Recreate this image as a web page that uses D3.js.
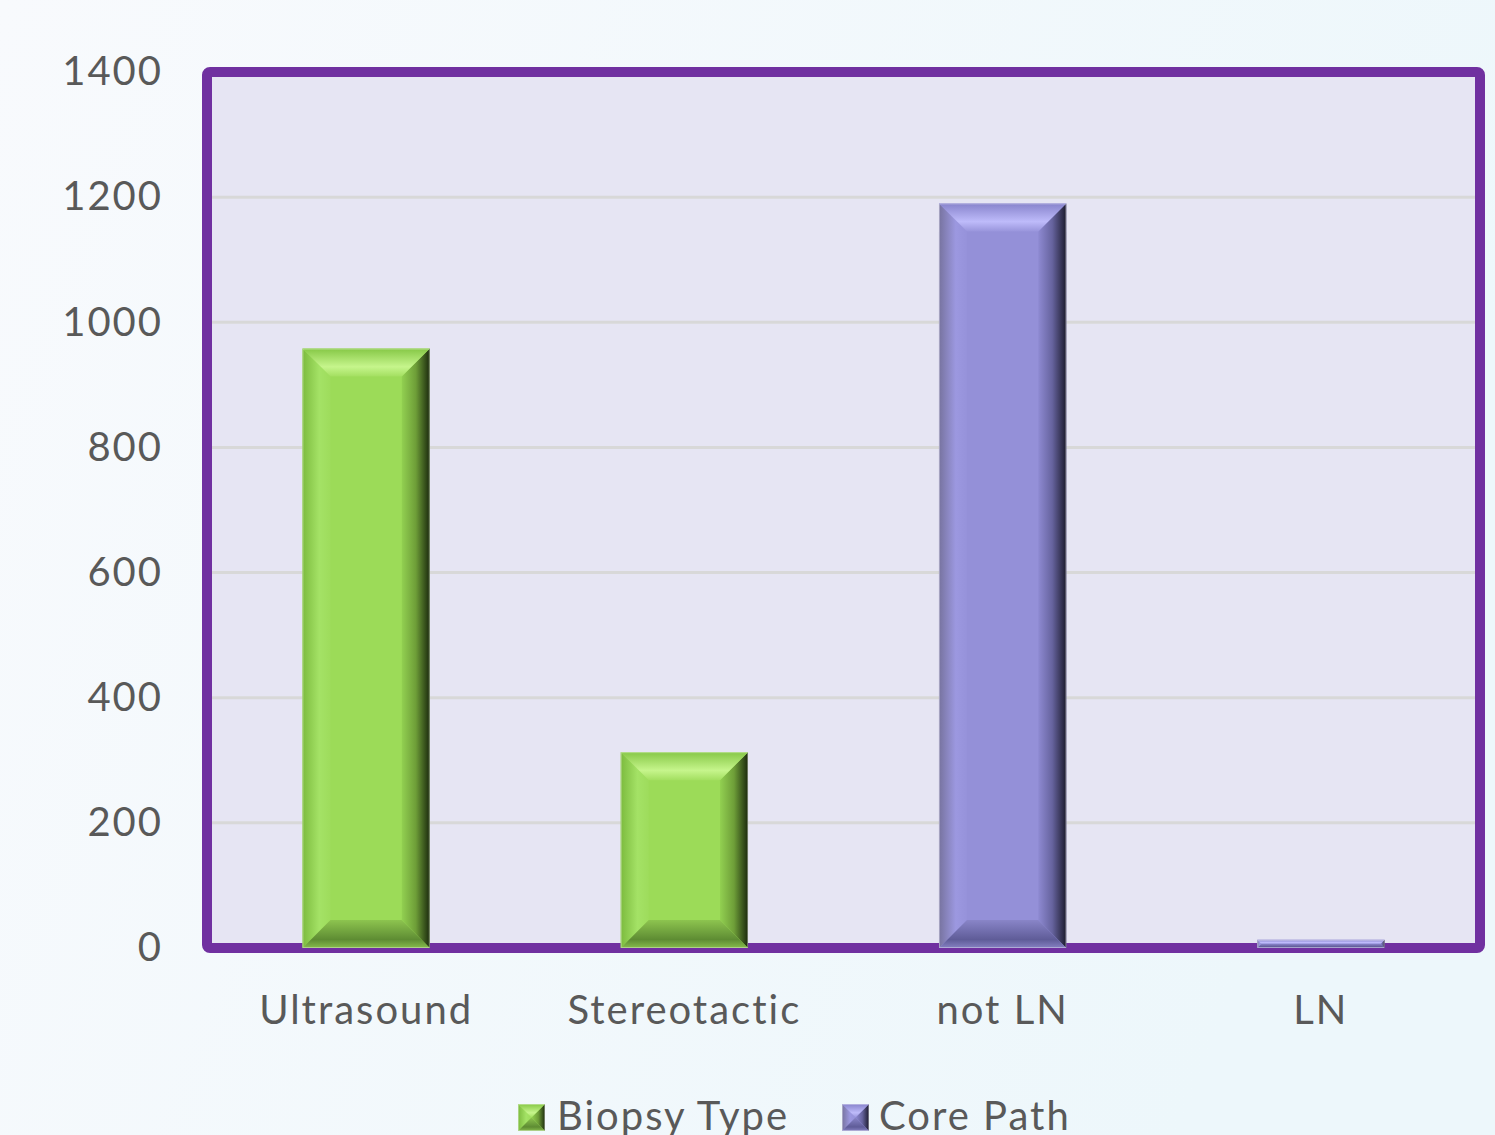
<!DOCTYPE html>
<html>
<head>
<meta charset="utf-8">
<script src="https://cdn.jsdelivr.net/npm/d3@7"></script>
<style>
  html, body { margin: 0; padding: 0; }
  body { width: 1495px; height: 1135px; overflow: hidden; }
  svg { display: block; }
  text { font-family: Lato, "Open Sans", sans-serif; fill: #595959; letter-spacing: 2px; }
</style>
</head>
<body>
<svg id="chart" width="1495" height="1135"></svg>
<script>
// Biopsy counts by category
const categories = ["Ultrasound", "Stereotactic", "not LN", "LN"];
const values = [958, 313, 1190, 13];
const seriesOf = ["Biopsy Type", "Biopsy Type", "Core Path", "Core Path"];
const seriesNames = ["Biopsy Type", "Core Path"];
const yTicks = [0, 200, 400, 600, 800, 1000, 1200, 1400];

const W = 1495, H = 1135;
const plot = { left: 207, right: 1480, top: 72, bottom: 948 };

const svg = d3.select("#chart");
const defs = svg.append("defs");

// Page background
const bg = defs.append("linearGradient").attr("id", "bg")
  .attr("x1", 0).attr("y1", 0).attr("x2", 1).attr("y2", 0.3);
bg.append("stop").attr("offset", 0).attr("stop-color", "#F8FAFD");
bg.append("stop").attr("offset", 1).attr("stop-color", "#EDF7FB");
svg.append("rect").attr("width", W).attr("height", H).attr("fill", "url(#bg)");

// Bevel colour palettes per series
const palettes = {
  "Biopsy Type": {
    center: "#9CDB58",
    top: [["0", "#86C846"], ["0.65", "#C6F58C"], ["1", "#A3DF60"]],
    left: [["0", "#7CBB3E"], ["0.6", "#A4E266"], ["1", "#9EDC5C"]],
    right: [["0", "#92D051"], ["0.5", "#6E9E38"], ["1", "#1B2A0D"]],
    bottom: [["0", "#8DC44F"], ["0.7", "#5E8C33"], ["1", "#86BC4C"]]
  },
  "Core Path": {
    center: "#9490D8",
    top: [["0", "#8783CC"], ["0.65", "#BEBBFA"], ["1", "#9995DC"]],
    left: [["0", "#77739F"], ["0.6", "#9C98E0"], ["1", "#9692DA"]],
    right: [["0", "#8E8AD2"], ["0.5", "#66639E"], ["1", "#1C1B2E"]],
    bottom: [["0", "#8985C8"], ["0.7", "#5F5C98"], ["1", "#8581C2"]]
  }
};

function makeGrad(id, stops, vertical) {
  const g = defs.append("linearGradient").attr("id", id)
    .attr("x1", 0).attr("y1", 0)
    .attr("x2", vertical ? 0 : 1).attr("y2", vertical ? 1 : 0);
  stops.forEach(([o, c]) => g.append("stop").attr("offset", o).attr("stop-color", c));
}
seriesNames.forEach((s, i) => {
  const p = palettes[s];
  makeGrad(`s${i}-top`, p.top, true);
  makeGrad(`s${i}-bottom`, p.bottom, true);
  makeGrad(`s${i}-left`, p.left, false);
  makeGrad(`s${i}-right`, p.right, false);
});

// Draws a bevelled box (four trapezoids around a flat face)
function bevelBox(g, x, y, w, h, si, bevel) {
  const b = Math.min(bevel, w / 2, h / 2);
  const p = palettes[seriesNames[si]];
  g.append("rect").attr("x", x).attr("y", y).attr("width", w).attr("height", h)
    .attr("fill", p.center);
  const poly = (pts, fill) => g.append("path")
    .attr("d", "M" + pts.map(d => d.join(",")).join("L") + "Z").attr("fill", fill);
  poly([[x, y], [x + b, y + b], [x + b, y + h - b], [x, y + h]], `url(#s${si}-left)`);
  poly([[x + w, y], [x + w - b, y + b], [x + w - b, y + h - b], [x + w, y + h]], `url(#s${si}-right)`);
  poly([[x, y + h], [x + w, y + h], [x + w - b, y + h - b], [x + b, y + h - b]], `url(#s${si}-bottom)`);
  poly([[x, y], [x + w, y], [x + w - b, y + b], [x + b, y + b]], `url(#s${si}-top)`);
  g.append("rect").attr("x", x + 0.5).attr("y", y + 0.5).attr("width", w - 1).attr("height", h - 1)
    .attr("fill", "none").attr("stroke", "rgba(255,255,255,0.35)").attr("stroke-width", 1);
}

const x = d3.scaleBand().domain(categories).range([plot.left, plot.right])
  .paddingInner(0.6).paddingOuter(0.3);
const y = d3.scaleLinear().domain([0, 1400]).range([plot.bottom, plot.top]);

// Plot area fill
svg.append("rect")
  .attr("x", plot.left).attr("y", plot.top)
  .attr("width", plot.right - plot.left).attr("height", plot.bottom - plot.top)
  .attr("fill", "#E6E5F3");

// Gridlines
svg.append("g").selectAll("line").data(yTicks.filter(t => t > 0 && t < 1400)).join("line")
  .attr("x1", plot.left).attr("x2", plot.right)
  .attr("y1", d => y(d)).attr("y2", d => y(d))
  .attr("stroke", "#D8D8D8").attr("stroke-width", 3);

// Plot border
svg.append("rect")
  .attr("x", plot.left).attr("y", plot.top)
  .attr("width", plot.right - plot.left).attr("height", plot.bottom - plot.top)
  .attr("rx", 3)
  .attr("fill", "none").attr("stroke", "#7030A0").attr("stroke-width", 10);

// Bars
const bars = svg.append("g");
categories.forEach((c, i) => {
  const si = seriesNames.indexOf(seriesOf[i]);
  const g = bars.append("g");
  bevelBox(g, x(c), y(values[i]), x.bandwidth(), y(0) - y(values[i]), si, 28);
});

// Y axis labels
const yAxis = d3.axisLeft(y).tickValues(yTicks).tickFormat(d3.format("d"))
  .tickSize(0).tickPadding(44);
const ya = svg.append("g").attr("transform", `translate(${plot.left},0)`).call(yAxis);
ya.select(".domain").remove();
ya.selectAll("text").attr("font-size", 40).attr("font-family", "Lato, sans-serif").attr("fill", "#595959");

// Category labels
const xAxis = d3.axisBottom(x).tickSize(0).tickPadding(48);
const xa = svg.append("g").attr("transform", `translate(0,${plot.bottom})`).call(xAxis);
xa.select(".domain").remove();
xa.selectAll("text").attr("font-size", 40).attr("font-family", "Lato, sans-serif").attr("fill", "#595959");

// Legend
const legendItems = [
  { name: seriesNames[0], sx: 518, tx: 557 },
  { name: seriesNames[1], sx: 842, tx: 879 }
];
const lg = svg.append("g");
legendItems.forEach((it, i) => {
  const g = lg.append("g");
  bevelBox(g, it.sx, 1104, 27, 27, i, 13.5);
  lg.append("text").attr("x", it.tx).attr("y", 1130)
    .attr("font-size", 40).text(it.name);
});
</script>
</body>
</html>
